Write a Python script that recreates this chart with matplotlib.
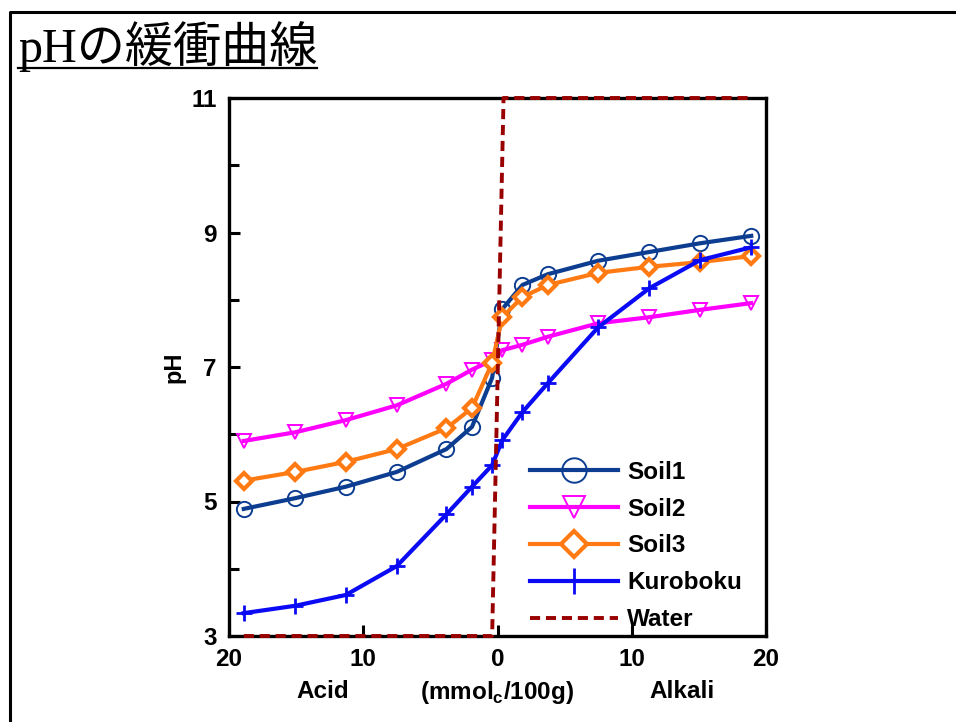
import matplotlib
matplotlib.use("Agg")
import matplotlib.pyplot as plt
from matplotlib.lines import Line2D
from matplotlib.ticker import FixedLocator

plt.rcParams['font.family'] = ['Liberation Sans', 'DejaVu Sans']
plt.rcParams['mathtext.fontset'] = 'custom'
plt.rcParams['mathtext.bf'] = 'Liberation Sans:bold'
plt.rcParams['mathtext.rm'] = 'Liberation Sans:bold'

# ---------------- data ----------------
x_acid_alk = [-18.9, -15.05, -11.3, -7.5, -3.8, -1.9, -0.4, 0.35, 1.86, 3.75, 7.5, 11.3, 15.1, 18.9]
soil1 = [4.89, 5.05, 5.22, 5.44, 5.78, 6.11, 6.84, 7.86, 8.22, 8.38, 8.58, 8.71, 8.84, 8.95]
soil2 = [5.90, 6.03, 6.21, 6.43, 6.75, 6.96, 7.10, 7.25, 7.33, 7.45, 7.65, 7.74, 7.85, 7.95]
soil3 = [5.31, 5.44, 5.59, 5.78, 6.09, 6.39, 7.06, 7.74, 8.04, 8.22, 8.40, 8.49, 8.56, 8.65]
kuroboku = [3.34, 3.45, 3.61, 4.04, 4.81, 5.22, 5.54, 5.91, 6.33, 6.76, 7.59, 8.17, 8.59, 8.78]
water_x = [-18.9, -0.4, 0.45, 18.9]
water_y = [3, 3, 11, 11]

xticks = [-20, -10, 0, 10, 20]
xtick_labels = ['20', '10', '0', '10', '20']
yticks = [3, 5, 7, 9, 11]
series_names = ['Soil1', 'Soil2', 'Soil3', 'Kuroboku', 'Water']
title_text = 'pHの緩衝曲線'

# ---------------- figure ----------------
W, H = 956, 722
fig = plt.figure(figsize=(W / 100, H / 100), dpi=100)
ax = fig.add_axes([229 / W, 1 - 636 / H, (766 - 229) / W, (636 - 98) / H])

lw = 3.0
ax.plot(x_acid_alk, soil1, color='#0D3D91', lw=lw, marker='o', ms=11,
        mfc='none', mec='#0D3D91', mew=1.4, label=series_names[0], zorder=3)
ax.plot(x_acid_alk, soil2, color='#FF00FF', lw=lw, marker='v', ms=10,
        mfc='none', mec='#FF00FF', mew=1.4, label=series_names[1], zorder=3)
ax.plot(x_acid_alk, soil3, color='#FF7A12', lw=lw, marker='D', ms=8,
        mfc='white', mec='#FF7A12', mew=3, label=series_names[2], zorder=3)
ax.plot(x_acid_alk, kuroboku, color='#0A0AF5', lw=lw, marker='+', ms=12,
        mec='#0A0AF5', mew=2.0, label=series_names[3], zorder=3)
ax.plot(water_x, water_y, color='#990000', lw=2.8, ls=(0, (2.6, 1.5)),
        label=series_names[4], clip_on=False, zorder=4)

ax.set_xlim(-20, 20)
ax.set_ylim(3, 11)
ax.xaxis.set_major_locator(FixedLocator(xticks))
ax.set_xticklabels(xtick_labels)
ax.yaxis.set_major_locator(FixedLocator(yticks))
ax.yaxis.set_minor_locator(FixedLocator([4, 6, 8, 10]))

for sp in ax.spines.values():
    sp.set_linewidth(2.4)
ax.tick_params(axis='both', which='major', direction='in', length=8, width=2.2,
               labelsize=17.5, pad=9)
ax.tick_params(axis='y', which='minor', direction='in', length=7, width=2.2)
for lab in ax.get_xticklabels() + ax.get_yticklabels():
    lab.set_fontweight('bold')

ax.set_ylabel('pH', fontsize=17, fontweight='bold', labelpad=4)

# x-axis labels
ty = 1 - 692 / H
fig.text(323 / W, ty, 'Acid', fontsize=17.5, fontweight='bold', ha='center', va='center')
fig.text(497 / W, ty, r'(mmol$_{\mathbf{c}}$/100g)', fontsize=17.5, fontweight='bold',
         ha='center', va='center')
fig.text(682 / W, ty, 'Alkali', fontsize=17.5, fontweight='bold', ha='center', va='center')

leg = ax.legend(loc='center left', bbox_to_anchor=((530 - 229) / 537, (636 - 546) / 538),
                frameon=False, fontsize=17.5, handlelength=3.6, handletextpad=0.4,
                labelspacing=0.57, borderpad=0, borderaxespad=0, markerscale=1.6)
for t in leg.get_texts():
    t.set_fontweight('bold')

# figure frame
fig.add_artist(Line2D([10 / W, 10 / W, 1.0], [0.0, 1 - 12 / H, 1 - 12 / H],
                      transform=fig.transFigure, color='black', lw=2.2))

# title with underline
title = fig.text(18 / W, 1 - 62 / H, title_text, fontsize=34.7,
                 family=['Liberation Serif', 'Noto Sans CJK JP'], ha='left', va='baseline')
fig.canvas.draw()
bb = title.get_window_extent()
uy = 1 - 68 / H
fig.add_artist(Line2D([bb.x0 / W, bb.x1 / W], [uy, uy], transform=fig.transFigure,
                      color='black', lw=1.6))

fig.savefig('out.png', dpi=100)
